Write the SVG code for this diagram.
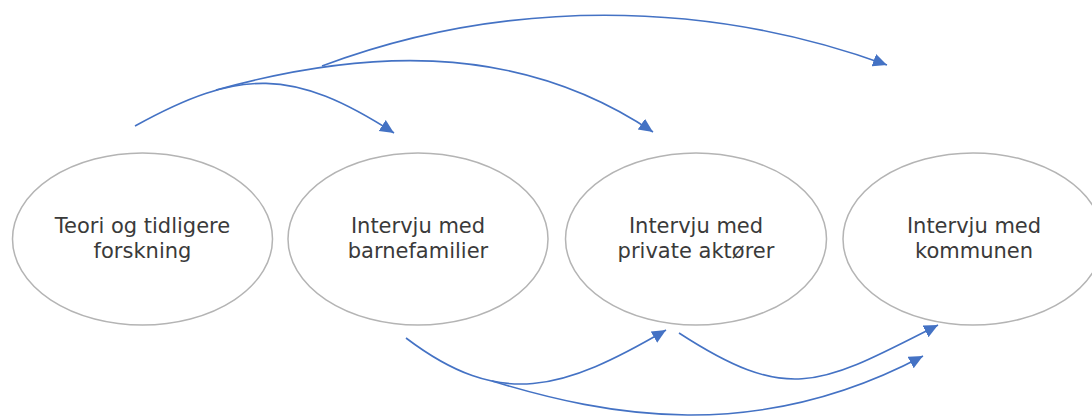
<svg xmlns="http://www.w3.org/2000/svg" width="1092" height="416" viewBox="0 0 1092 416">
  <style>
    .node ellipse { fill: #ffffff; stroke: #b4b4b4; stroke-width: 1.5; }
    .node text { font-family: "DejaVu Sans", Verdana, sans-serif; font-size: 21px; fill: #3a3a3a; text-anchor: middle; }
    .conn path { fill: none; stroke: #4472c4; stroke-width: 1.6; }
  </style>
  <defs>
    <marker id="arrow" markerUnits="userSpaceOnUse" markerWidth="16" markerHeight="14" refX="14" refY="6.5" orient="auto">
      <path d="M0,0 L14,6.5 L0,13 z" fill="#4472c4"/>
    </marker>
  </defs>
  <rect width="1092" height="416" fill="#ffffff"/>
  <g id="node-teori" class="node">
    <ellipse cx="142.5" cy="239" rx="130" ry="86"/>
    <text x="142.5" y="233">Teori og tidligere</text>
    <text x="142.5" y="258">forskning</text>
  </g>
  <g id="node-barnefamilier" class="node">
    <ellipse cx="418" cy="239" rx="130" ry="86"/>
    <text x="418" y="233">Intervju med</text>
    <text x="418" y="258">barnefamilier</text>
  </g>
  <g id="node-private" class="node">
    <ellipse cx="696" cy="239" rx="130.5" ry="86"/>
    <text x="696" y="233">Intervju med</text>
    <text x="696" y="258">private aktører</text>
  </g>
  <g id="node-kommunen" class="node">
    <ellipse cx="973" cy="239" rx="130" ry="86"/>
    <text x="974" y="233">Intervju med</text>
    <text x="974" y="258">kommunen</text>
  </g>
  <g id="connectors" class="conn">
    <path d="M135,126 C240,68 293,68 394,133" marker-end="url(#arrow)"/>
    <path d="M216,90 C353,52 512,37 653,132" marker-end="url(#arrow)"/>
    <path d="M322,66 C503,-2 706,-1 887,65" marker-end="url(#arrow)"/>
    <path d="M406,338 C501,410 563,390 666,330" marker-end="url(#arrow)"/>
    <path d="M492,381 C607,416 755,445 923,356" marker-end="url(#arrow)"/>
    <path d="M679,333 C790,405 820,385 938,325" marker-end="url(#arrow)"/>
  </g>
</svg>
